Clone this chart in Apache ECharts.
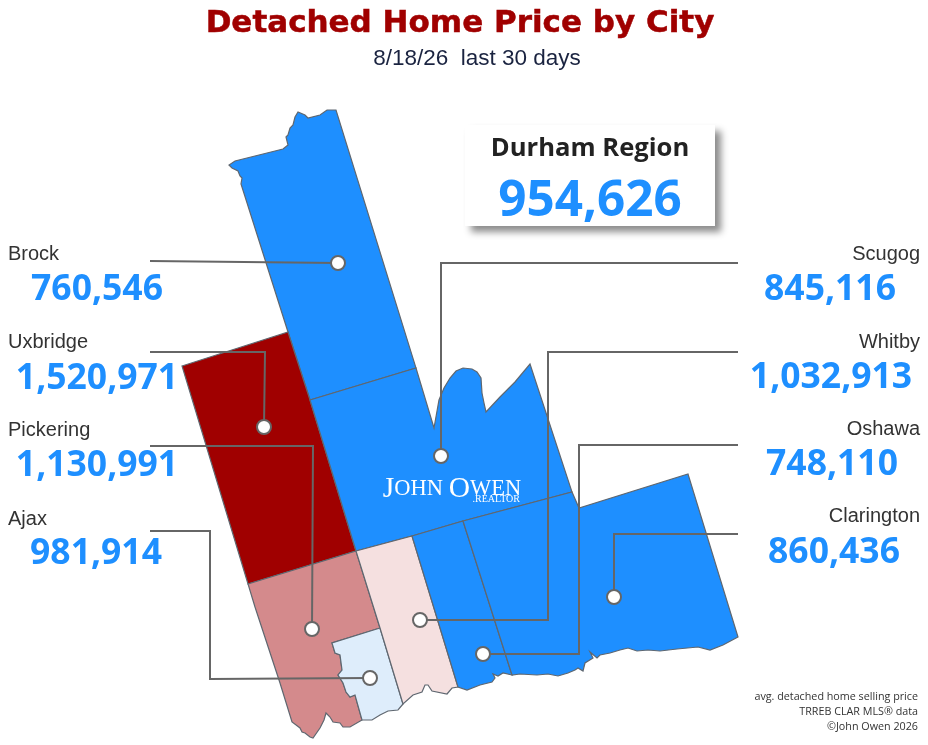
<!DOCTYPE html>
<html>
<head>
<meta charset="utf-8">
<title>Detached Home Price by City</title>
<script src="https://cdn.jsdelivr.net/npm/echarts@6/dist/echarts.min.js"></script>
<style>
  html, body { margin: 0; padding: 0; background: #fff; }
  #chart { width: 928px; height: 745px; }
</style>
</head>
<body>
<div id="chart"></div>
<script>
// values
var cities = ['Brock', 'Uxbridge', 'Pickering', 'Ajax', 'Scugog', 'Whitby', 'Oshawa', 'Clarington'];
var prices = [760546, 1520971, 1130991, 981914, 845116, 1032913, 748110, 860436];
var regionName = 'Durham Region';
var regionPrice = 954626;

// map outlines, same order as cities (traced, units are the picture's pixels)
var brockShape = [[336,110],[327,110],[320,115],[308,118],[305,115],[298,112],[295,117],[293,125],[290,128],[288,135],[286,137],[288,145],[283,149],[235,161],[229,165],[232,168],[238,171],[240,176],[242,178],[241,184],[288,332],[310,400],[416,368]];
var uxbridgeShape = [[182,366],[288,332],[310,400],[356,551],[248,584]];
var pickeringShape = [[248,584],[356,551],[380,628],[332,643],[335,653],[340,655],[342,670],[338,675],[343,683],[346,692],[350,697],[355,695],[362,720],[350,727],[343,727],[340,723],[333,722],[330,717],[326,713],[324,720],[320,728],[313,738],[310,737],[305,733],[302,732],[300,728],[292,722],[280,683],[255,607]];
var ajaxShape = [[380,628],[332,643],[335,653],[340,655],[342,670],[338,675],[343,683],[346,692],[350,697],[355,695],[362,720],[372,720],[380,715],[388,711],[398,710],[403,704]];
var scugogShape = [[310,400],[416,368],[434,428],[439,400],[444,388],[450,378],[456,371],[463,368],[472,369],[477,372],[481,378],[482,393],[484,403],[486,412],[500,397],[515,382],[530,364],[572,492],[463,521],[412,536],[356,551]];
var whitbyShape = [[356,551],[412,536],[458,687],[452,688],[447,694],[432,691],[428,685],[425,685],[422,692],[413,695],[403,704],[380,628]];
var oshawaShape = [[412,536],[463,521],[512,675],[503,673],[498,676],[493,674],[495,678],[492,682],[480,685],[467,690],[458,687]];
var claringtonShape = [[463,521],[572,492],[579,508],[688,474],[738,637],[723,645],[710,650],[698,647],[677,649],[660,651],[648,650],[637,651],[628,648],[620,650],[610,653],[600,655],[597,658],[590,652],[593,658],[585,663],[583,671],[578,668],[575,670],[568,673],[558,676],[548,674],[537,675],[520,674],[512,675]];
var shapes = [brockShape, uxbridgeShape, pickeringShape, ajaxShape, scugogShape, whitbyShape, oshawaShape, claringtonShape];

// leader lines, from the label to the dot inside the city
var leaders = [
  [[150,261],[338,263]],
  [[150,352],[265,352],[264,427]],
  [[150,446],[313,446],[312,629]],
  [[150,531],[210,531],[210,679],[370,678]],
  [[738,263],[441,263],[441,456]],
  [[738,352],[548,352],[548,620],[420,620]],
  [[738,445],[579,445],[579,654],[483,654]],
  [[738,534],[614,534],[614,597]]
];

var footnotes = ['avg. detached home selling price', 'TRREB CLAR MLS\u00AE data', '\u00A9John Owen 2026'];

function money(v) {
  return v.toLocaleString('en-US');
}

var geoJson = {
  type: 'FeatureCollection',
  features: cities.map(function (name, i) {
    return {
      type: 'Feature',
      properties: { name: name },
      geometry: { type: 'Polygon', coordinates: [shapes[i].concat([shapes[i][0]])] }
    };
  })
};
echarts.registerMap('durham', geoJson);

var BLUE = '#1e8fff';
var VALUE_FONT = '"Open Sans", "Noto Sans", sans-serif';

// city labels down both sides
var labelSpots = [
  { side: 'left',  nameY: 254, valueX: 97,  valueY: 290 },
  { side: 'left',  nameY: 342, valueX: 97,  valueY: 379 },
  { side: 'left',  nameY: 430, valueX: 97,  valueY: 466 },
  { side: 'left',  nameY: 519, valueX: 96,  valueY: 554 },
  { side: 'right', nameY: 254, valueX: 830, valueY: 290 },
  { side: 'right', nameY: 342, valueX: 831, valueY: 378 },
  { side: 'right', nameY: 429, valueX: 832, valueY: 465 },
  { side: 'right', nameY: 516, valueX: 834, valueY: 553 }
];

var graphics = [];
cities.forEach(function (name, i) {
  var spot = labelSpots[i];
  graphics.push({
    type: 'text', z: 20,
    style: {
      text: name,
      x: spot.side === 'left' ? 8 : 920,
      y: spot.nameY,
      align: spot.side,
      verticalAlign: 'middle',
      fill: '#333',
      font: '20px "Liberation Sans", Arial, sans-serif'
    }
  });
  graphics.push({
    type: 'text', z: 20,
    style: {
      text: money(prices[i]),
      x: spot.valueX,
      y: spot.valueY,
      align: 'center',
      verticalAlign: 'middle',
      fill: BLUE,
      font: 'bold 35.5px ' + VALUE_FONT
    }
  });
});

// Durham box
graphics.push({
  type: 'rect', z: 10,
  shape: { x: 465, y: 125, width: 250, height: 101 },
  style: { fill: '#fff', shadowBlur: 7, shadowOffsetX: 6, shadowOffsetY: 6, shadowColor: 'rgba(0,0,0,0.45)' }
});
graphics.push({
  type: 'text', z: 20,
  style: {
    text: regionName, x: 590, y: 149, align: 'center', verticalAlign: 'middle',
    fill: '#222', font: 'bold 25.6px ' + VALUE_FONT
  }
});
graphics.push({
  type: 'text', z: 20,
  style: {
    text: money(regionPrice), x: 590, y: 202, align: 'center', verticalAlign: 'middle',
    fill: BLUE, font: 'bold 49.4px ' + VALUE_FONT
  }
});

// logo on the map
graphics.push({
  type: 'text', z: 20,
  style: {
    text: '{a|J}{b|OHN }{a|O}{b|WEN}',
    x: 452, y: 489, align: 'center', verticalAlign: 'middle',
    rich: {
      a: { fontFamily: '"Liberation Serif", serif', fontSize: 29.5, fill: '#fff', color: '#fff' },
      b: { fontFamily: '"Liberation Serif", serif', fontSize: 22.5, fill: '#fff', color: '#fff' }
    }
  }
});
graphics.push({
  type: 'text', z: 20,
  style: {
    text: '.REALTOR', x: 520, y: 499, align: 'right', verticalAlign: 'middle',
    fill: '#fff', font: '10px "Liberation Serif", serif'
  }
});

// footnotes
footnotes.forEach(function (line, i) {
  graphics.push({
    type: 'text', z: 20,
    style: {
      text: line, x: 918, y: 697 + i * 15, align: 'right', verticalAlign: 'middle',
      fill: '#333', font: '10.75px "Open Sans", sans-serif'
    }
  });
});

var chart = echarts.init(document.getElementById('chart'));
chart.setOption({
  animation: false,
  backgroundColor: '#fff',
  title: [
    {
      text: 'Detached Home Price by City',
      left: 455, top: 3, textAlign: 'center',
      textStyle: {
        color: '#a00000', fontFamily: '"DejaVu Sans", sans-serif', fontWeight: 'bold', fontSize: 31,
        textBorderColor: '#a00000', textBorderWidth: 0.5
      }
    },
    {
      text: '8/18/26  last 30 days',
      left: 472, top: 42, textAlign: 'center',
      textStyle: { color: '#1a2340', fontFamily: '"Liberation Sans", Arial, sans-serif', fontWeight: 'normal', fontSize: 22.5 }
    }
  ],
  // price colours: blue below the region, pink to dark red above it
  visualMap: {
    show: false,
    type: 'piecewise',
    seriesIndex: 0,
    pieces: [
      { lt: 900000, color: BLUE },
      { gte: 900000, lt: 1000000, color: '#deedfb' },
      { gte: 1000000, lt: 1100000, color: '#f5e0e0' },
      { gte: 1100000, lt: 1300000, color: '#d48a8c' },
      { gte: 1300000, color: '#a00000' }
    ]
  },
  geo: {
    map: 'durham',
    silent: true,
    roam: false,
    projection: {
      project: function (p) { return p; },
      unproject: function (p) { return p; }
    },
    boundingCoords: [[0, 0], [928, 745]],
    left: 0, top: 0, width: 928, height: 745,
    label: { show: false },
    itemStyle: { areaColor: BLUE, borderColor: '#5f6770', borderWidth: 1.2 },
    emphasis: { disabled: true }
  },
  series: [
    {
      type: 'map',
      geoIndex: 0,
      silent: true,
      data: cities.map(function (name, i) { return { name: name, value: prices[i] }; })
    },
    {
      type: 'lines',
      coordinateSystem: 'geo',
      polyline: true,
      silent: true,
      z: 5,
      lineStyle: { color: '#666', width: 2, opacity: 1, join: 'miter' },
      data: leaders.map(function (pts) { return { coords: pts }; })
    },
    {
      type: 'scatter',
      coordinateSystem: 'geo',
      silent: true,
      z: 6,
      symbol: 'circle',
      symbolSize: 14,
      itemStyle: { color: '#fff', borderColor: '#666', borderWidth: 2, opacity: 1 },
      data: leaders.map(function (pts) { return pts[pts.length - 1]; })
    }
  ],
  graphic: { elements: graphics }
});
</script>
</body>
</html>
